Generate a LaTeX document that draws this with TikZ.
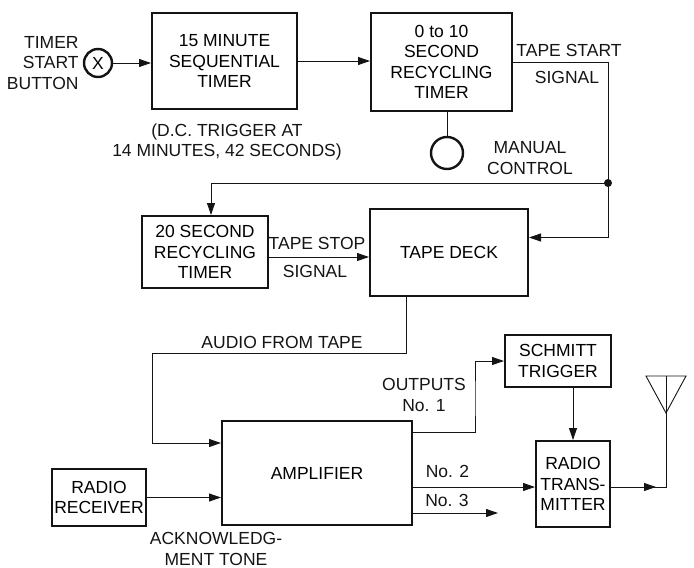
\documentclass[tikz,border=0pt]{standalone}
\usepackage{fontspec}
\setmainfont{Liberation Sans}
\usetikzlibrary{arrows.meta,positioning}
\definecolor{BlkInk}{HTML}{141414}
\tikzset{
  blkbox/.style={
    draw=BlkInk,
    line width=2pt,
    align=center,
    inner sep=2pt
  },
  blklabel/.style={
    align=center,
    inner sep=1pt,
    text=BlkInk
  },
  blkknob/.style={
    circle,
    draw=BlkInk,
    line width=2.4pt,
    inner sep=0pt
  },
  blkwire/.style={draw=BlkInk,line width=0.9pt},
  blkflow/.style={blkwire,-{Triangle[length=12pt,width=8pt]}}
}

\begin{document}
\begin{tikzpicture}[x=1pt,y=-1pt,font=\fontsize{17.5}{20.5}\selectfont]
        \useasboundingbox (0,0) rectangle (694,568);
        % top row
        \node[blkknob,minimum size=28pt] (start) at (98,63) {X};
        \node[blklabel,left=3pt of start,align=right] (startlbl) {TIMER\\START\\BUTTON};
        \node[blkbox,minimum width=145pt,minimum height=96pt] (seqtimer) at (224.5,61) {15 MINUTE\\SEQUENTIAL\\TIMER};
        \node[blkbox,minimum width=141pt,minimum height=98pt] (rectimer) at (441.5,62) {0 to 10\\SECOND\\RECYCLING\\TIMER};
        \node[blklabel] (triglbl) at (227,142) {(D.C. TRIGGER AT\\14 MINUTES, 42 SECONDS)};
        \node[blkknob,minimum size=32pt] (manual) at (447,153) {};
        \node[blklabel] (manlbl) at (530,158) {MANUAL\\CONTROL};
        \node[blklabel] (startsig) at (569,50) {TAPE START};
        \node[blklabel] (startsig2) at (567,77.5) {SIGNAL};
        \coordinate (junc) at (608,183);
        % middle row
        \node[blkbox,minimum width=126pt,minimum height=72pt] (stoptimer) at (205,252) {20 SECOND\\RECYCLING\\TIMER};
        \node[blkbox,minimum width=158pt,minimum height=87pt] (deck) at (449,252.5) {TAPE DECK};
        \node[blklabel] (stopsig) at (317,243) {TAPE STOP};
        \node[blklabel] (stopsig2) at (315,271) {SIGNAL};
        \node[blklabel] (audiolbl) at (282,342.5) {AUDIO FROM TAPE};
        \coordinate (audiobend) at (152,353);
        % bottom row
        \node[blkbox,minimum width=190pt,minimum height=104pt] (amp) at (317,473) {AMPLIFIER};
        \node[blkbox,minimum width=94pt,minimum height=57pt] (receiver) at (99,497.5) {RADIO\\RECEIVER};
        \node[blklabel] (acklbl) at (216,549) {ACKNOWLEDG-\\MENT TONE};
        \node[blkbox,minimum width=106pt,minimum height=52pt] (schmitt) at (558,361) {SCHMITT\\TRIGGER};
        \node[blkbox,minimum width=74pt,minimum height=86pt] (transmitter) at (573,484) {RADIO\\TRANS-\\MITTER};
        \node[blklabel] (outlbl) at (424,395) {OUTPUTS\\No. 1};
        \node[blklabel] (twolbl) at (447.5,471.5) {No. 2};
        \node[blklabel] (threelbl) at (447,500) {No. 3};
        \coordinate (outbend) at (475,400);
        \coordinate (outthree) at (498,513);
        % antenna
        \coordinate (antfoot) at (666,487);
        \coordinate (antapex) at (666,413);
        \coordinate (anttop) at (666,376);
        \coordinate (antleft) at (646,376);
        \coordinate (antright) at (686,376);
        % connectors
        \draw[blkflow] (start.east) -- (start.east -| seqtimer.west);
        \draw[blkflow] (seqtimer.east) -- (seqtimer.east -| rectimer.west);
        \draw[blkwire] (rectimer.east) -| (junc);
        \draw[blkflow] (junc) |- ([yshift=15pt]deck.east);
        \draw[blkflow] (junc) -| ([xshift=6pt]stoptimer.north);
        \fill[BlkInk] (junc) circle (4pt);
        \draw[blkwire] (manual) -- (manual |- rectimer.south);
        \draw[blkflow] ([yshift=-5pt]stoptimer.east) -- ([yshift=-5pt]stoptimer.east -| deck.west);
        \draw[blkflow] ([xshift=-43pt]deck.south) |- (audiobend) |- ([yshift=30pt]amp.west);
        \draw[blkflow] (receiver.east) -- (receiver.east -| amp.west);
        \draw[blkflow] ([yshift=41pt]amp.east) -| (outbend) |- (schmitt.west);
        \draw[blkflow] (schmitt.south -| transmitter.north) -- (transmitter.north);
        \draw[blkflow] ([yshift=-14pt]amp.east) -- ([yshift=-14pt]amp.east -| transmitter.west);
        \draw[blkflow] ([yshift=-40pt]amp.east) -- (outthree);
        \draw[blkflow] (transmitter.east |- antfoot) -- ([xshift=-10pt]antfoot);
        \draw[blkwire] ([xshift=-12pt]antfoot) -- (antfoot) -- (anttop);
        \draw[blkwire] (antleft) -- (antright) -- (antapex) -- cycle;
      \end{tikzpicture}
\end{document}
